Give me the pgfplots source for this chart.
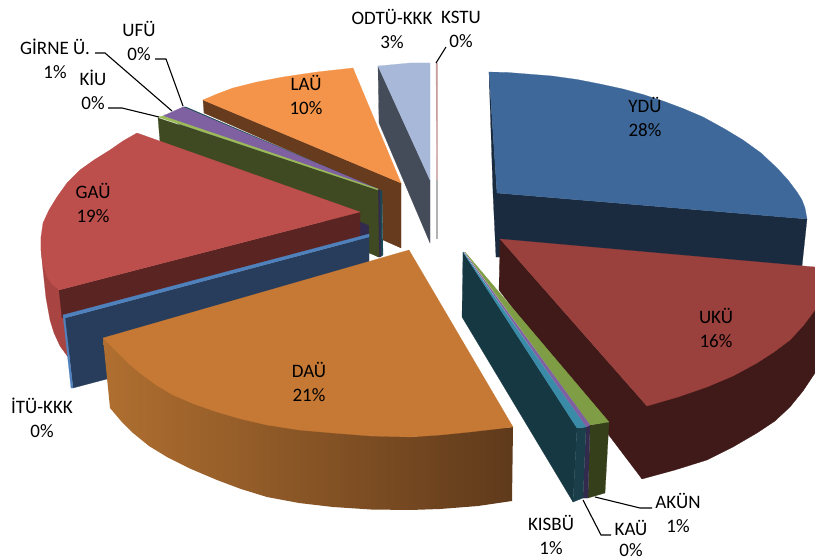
\documentclass[border=0pt]{standalone}
\usepackage{fontspec}
\setmainfont{Carlito}
\usepackage{pgfplots}
\pgfplotsset{compat=1.18}

\definecolor{ydutop}{HTML}{3E6899}
\definecolor{yduside}{HTML}{1A2B40}
\definecolor{ukutop}{HTML}{9A403D}
\definecolor{ukuside}{HTML}{3F1A18}
\definecolor{gautop}{HTML}{BC4E4B}
\definecolor{gauwall}{HTML}{A84442}
\definecolor{gaucut}{HTML}{5A2422}
\definecolor{dautop}{HTML}{C67935}
\definecolor{dauleft}{HTML}{B06F30}
\definecolor{daumid}{HTML}{8D5A28}
\definecolor{dauright}{HTML}{5F3A1B}
\definecolor{itutop}{HTML}{4F81BD}
\definecolor{ituside}{HTML}{283D5B}
\definecolor{kiutop}{HTML}{9BBB59}
\definecolor{kiuside}{HTML}{3F4A22}
\definecolor{gintop}{HTML}{7F60A0}
\definecolor{ginside}{HTML}{332B4E}
\definecolor{ufuside}{HTML}{1B4A55}
\definecolor{lautop}{HTML}{F4944A}
\definecolor{lauside}{HTML}{673B1E}
\definecolor{odttop}{HTML}{A8B8D8}
\definecolor{odtside}{HTML}{454C59}
\definecolor{kistop}{HTML}{3A8BA8}
\definecolor{kisside}{HTML}{163842}
\definecolor{kisface}{HTML}{1B3F4A}
\definecolor{akutop}{HTML}{7F9D45}
\definecolor{akuside}{HTML}{35401A}

\pgfplotsset{
  wedge/.style={draw=#1,line width=0.2pt,fill=#1,mark=none,forget plot},
  leader/.style={black,line width=1.1pt,mark=none,forget plot},
}

\begin{document}
\begin{tikzpicture}
\path[use as bounding box] (0,0) rectangle (815pt,559pt);
\begin{axis}[
  at={(0,0)},anchor=south west,
  scale only axis,width=815pt,height=559pt,
  xmin=0,xmax=815,ymin=0,ymax=559,
  y dir=reverse,
  hide axis,clip=false,
]
% KSTU
\addplot[wedge=red!30!gray!60] coordinates {(436,63)(437.5,63)(437.5,180)(436.5,180)} -- cycle;
\addplot[wedge=gray!60] coordinates {(436.5,180)(437.5,180)(437.5,238)(436.5,238)} -- cycle;
% ODTU-KKK
\addplot[wedge=odtside] coordinates {(378,66)(379,123)(430,243)(430,180)} -- cycle;
\addplot[wedge=odttop] coordinates {(378,66)(410,63)(430,63)(430,180)} -- cycle;
% LAU
\addplot[wedge=lauside] coordinates {(203,100)(204,113)(378,190)(382,192)(383,240)(401,248)(401,183)} -- cycle;
\addplot[wedge=lautop] coordinates {(203,100)(217,94)(233,88)(257,82)(283,77)(317,72)(353,68)(401,183)} -- cycle;
% UFU, GIRNE, KIU slivers
\addplot[wedge=ufuside] coordinates {(183,107)(186,107)(382,191)(383,255)(380,257)(378,190)} -- cycle;
\addplot[wedge=ginside] coordinates {(165,115)(378,190)(380,190)(381,257)(378,257)} -- cycle;
\addplot[wedge=gintop] coordinates {(163,116)(183,107)(378,189)(377,190)} -- cycle;
\addplot[wedge=kiuside] coordinates {(158,118)(160,142)(369,225)(369,253)(379,257)(378,190)} -- cycle;
\addplot[wedge=kiutop] coordinates {(158,117)(163,116)(378,189)(378,190)} -- cycle;
% GAU
\addplot[wedge=gauwall] coordinates {(41,237)(41,250)(43,270)(46,298)(50,320)(54,333)(60,346)(68,357)(80,340)(59,290)} -- cycle;
\addplot[wedge=gaucut] coordinates {(360,212)(59,290)(62,318)(360,238)} -- cycle;
\addplot[wedge=gautop] coordinates {(137,133)(123,141)(110,150)(94,160)(80,170)(67,183)(57,197)(49,210)(43,223)(41,237)(41,250)(43,265)(47,277)(52,284)(59,290)(360,212)} -- cycle;
% ITU-KKK
\addplot[wedge=ituside] coordinates {(65,318)(73,388)(107,379)(200,340)(369,262)(369,237)} -- cycle;
\addplot[wedge=itutop] coordinates {(369,234)(63,315)(71,388)(73,388)(65,318)(369,237)} -- cycle;
% DAU
\addplot[draw=none,left color=dauleft,middle color=daumid,right color=dauright,mark=none,forget plot] coordinates {(103,338)(110,408)(121,421)(133,433)(149,446)(167,457)(191,469)(217,480)(241,489)(267,497)(299,503)(333,507)(371,509.5)(410,510)(440,509)(478,506)(512,501)(513,427)(410,437)} -- cycle;
\addplot[wedge=dautop] coordinates {(103,338)(110,345)(117,352)(128,363)(140,373)(156,385)(173,395)(194,404)(217,412)(241,419)(267,425)(299,430)(333,433)(371,436)(410,437)(440,435)(470,432)(513,427)(409,250)} -- cycle;
% YDU
\addplot[wedge=yduside] coordinates {(489,72)(493,193)(496,257)(802,266)(807,219)(497,193)} -- cycle;
\addplot[wedge=ydutop] coordinates {(489,72)(508,72.5)(527,74)(552,76)(577,79.5)(600,84)(623,89)(643,94.5)(663,101)(683,108.5)(703,117)(723,128)(743,140)(761,153)(777,168)(788,180)(797,192)(802,200)(805,208)(807,219)(497,193)} -- cycle;
% UKU
\addplot[wedge=ukuside] coordinates {(500,239)(499,290)(642,479)(675,470)(707,460)(733,447)(757,433)(775,421)(790,407)(803,391)(815,373)(815,310)(647,406)} -- cycle;
\addplot[wedge=ukutop] coordinates {(500,239)(815,267)(815,310)(803,326)(790,340)(774,352)(757,363)(733,376)(707,387)(678,397)(647,406)} -- cycle;
% AKUN
\addplot[wedge=akuside] coordinates {(590,425)(609,422)(605,493)(588,498)} -- cycle;
\addplot[wedge=akutop] coordinates {(465,252)(609,422)(590,425)} -- cycle;
% KAU
\addplot[wedge=ginside] coordinates {(586,427)(590,425)(588,498)(583,498)} -- cycle;
\addplot[wedge=gintop] coordinates {(464,252)(590,425)(586,427)} -- cycle;
% KISBU
\addplot[wedge=kisside] coordinates {(463,252)(462,317)(573,502)(577,428)} -- cycle;
\addplot[wedge=kisface] coordinates {(577,428)(586,427)(583,498)(573,502)} -- cycle;
\addplot[wedge=kistop] coordinates {(463,252)(586,427)(577,428)} -- cycle;
% leaders
\addplot[leader] coordinates {(95,53)(105,53)(172,111)};
\addplot[leader] coordinates {(155,59)(166,59)(183,106)};
\addplot[leader] coordinates {(108,108)(122,108)(159,117)};
\addplot[leader] coordinates {(446,47)(436,63)};
\addplot[leader] coordinates {(652,508)(640,508)(595,497)};
\addplot[leader] coordinates {(611,535)(601,535)(583,500)};
% labels
\tikzset{every node/.style={align=center,font=\fontsize{19}{24}\selectfont,text=black,inner sep=0pt}}
\node at (axis cs:645,117) {YDÜ\\28\%};
\node at (axis cs:716,328) {UKÜ\\16\%};
\node at (axis cs:309,382) {DAÜ\\21\%};
\node at (axis cs:93,203) {GAÜ\\19\%};
\node at (axis cs:306,95) {LAÜ\\10\%};
\node at (axis cs:392,29) {ODTÜ-KKK\\3\%};
\node at (axis cs:461,29) {KSTU\\0\%};
\node at (axis cs:139,41) {UFÜ\\0\%};
\node at (axis cs:55,59) {GİRNE Ü.\\1\%};
\node at (axis cs:93,90) {KİU\\0\%};
\node at (axis cs:42,418) {İTÜ-KKK\\0\%};
\node at (axis cs:551,535) {KISBÜ\\1\%};
\node[font=\fontsize{19}{21}\selectfont] at (axis cs:631,538.5) {KAÜ\\0\%};
\node at (axis cs:678,513) {AKÜN\\1\%};
\end{axis}
\end{tikzpicture}
\end{document}
